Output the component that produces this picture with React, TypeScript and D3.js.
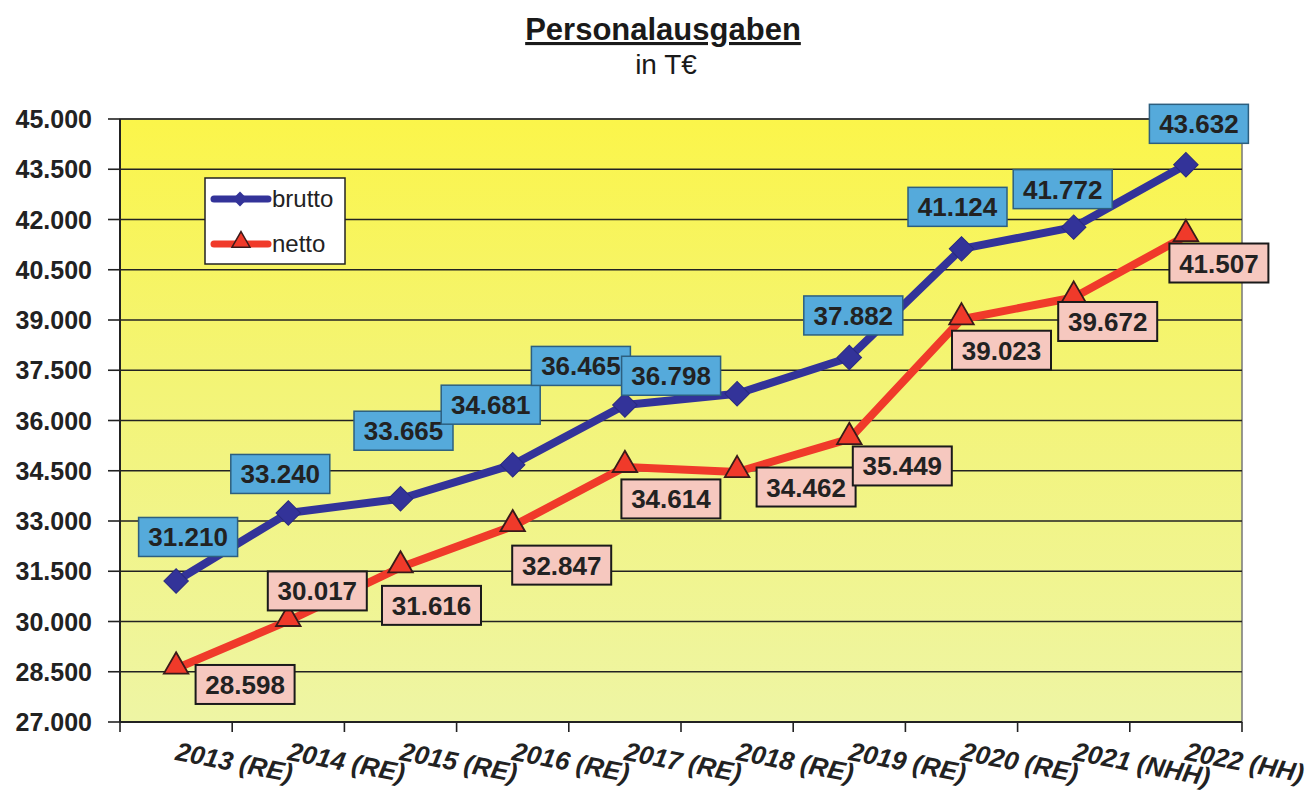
import React from "react";
import * as d3 from "d3";

const categories = ["2013 (RE)", "2014 (RE)", "2015 (RE)", "2016 (RE)", "2017 (RE)", "2018 (RE)", "2019 (RE)", "2020 (RE)", "2021 (NHH)", "2022 (HH)"];
const brutto = [31210, 33240, 33665, 34681, 36465, 36798, 37882, 41124, 41772, 43632];
const netto = [28598, 30017, 31616, 32847, 34614, 34462, 35449, 39023, 39672, 41507];
const yTicks = [27000, 28500, 30000, 31500, 33000, 34500, 36000, 37500, 39000, 40500, 42000, 43500, 45000];

// label box placement relative to point (layout only)
const bruttoLabelShift: [number, number][] = [[12, -44], [-8, -39], [3, -68], [-22, -60], [-44, -39], [-66, -18], [4, -42], [-4, -42], [-11, -38], [13, -41]];
const nettoLabelShift: [number, number][] = [[69, 16], [29, -30], [31, 38], [49, 39], [46, 32], [69, 15], [53, 27], [40, 31], [34, 24], [33, 27]];

const FONT = "Arial, 'Liberation Sans', Helvetica, sans-serif";
const W = 1308, H = 791;
const L = 120, R = 1242, T = 119, B = 722;

const locale = d3.formatLocale({ decimal: ",", thousands: ".", grouping: [3], currency: ["", "€"] });
const fmt = locale.format(",.0f");

export default function App() {
  const x = d3.scaleBand<string>().domain(categories).range([L, R]);
  const y = d3.scaleLinear().domain([27000, 45000]).range([B, T]);
  const cx = (i: number) => (x(categories[i]) as number) + x.bandwidth() / 2;
  const line = d3.line<number>().x((_, i) => cx(i)).y((v) => y(v));
  const diamond = d3.symbol(d3.symbolSquare, 300)();
  const tri = d3.symbol(d3.symbolTriangle, 260)();
  const boundaries = [...categories.map((c) => x(c) as number), R];
  const blue = "#333399";
  const red = "#f03a2a";
  const boxW = 99, boxH = 39;

  return (
    <svg width={W} height={H} style={{ position: "absolute", left: 0, top: 0, background: "#fff" }} fontFamily={FONT}>
      <defs>
        <linearGradient id="bg" x1="0" y1="0" x2="0" y2="1">
          <stop offset="0" stopColor="#fbf54a" />
          <stop offset="0.45" stopColor="#f3f477" />
          <stop offset="1" stopColor="#eef5a4" />
        </linearGradient>
      </defs>
      <rect x={0} y={0} width={W} height={H} fill="#fff" />
      {/* title */}
      <text x={663} y={40} textAnchor="middle" fontSize={31} fontWeight="bold" fill="#1a1a1a" textDecoration="underline">Personalausgaben</text>
      <text x={666} y={74} textAnchor="middle" fontSize={28} fill="#1a1a1a">in T€</text>

      {/* plot area */}
      <rect x={L} y={T} width={R - L} height={B - T} fill="url(#bg)" stroke="#777" strokeWidth={1.5} />
      {yTicks.slice(1).map((t) => (
        <line key={t} x1={L} x2={R} y1={y(t)} y2={y(t)} stroke="#222" strokeWidth={1.6} />
      ))}
      {/* axes */}
      <line x1={L} x2={L} y1={T} y2={B} stroke="#222" strokeWidth={2} />
      <line x1={L} x2={R} y1={B} y2={B} stroke="#222" strokeWidth={2} />
      {yTicks.map((t) => (
        <g key={t}>
          <line x1={L - 12} x2={L} y1={y(t)} y2={y(t)} stroke="#222" strokeWidth={1.6} />
          <text x={92} y={y(t) + 9} textAnchor="end" fontSize={25} fontWeight="bold" fill="#222">{fmt(t)}</text>
        </g>
      ))}
      {boundaries.map((b, i) => (
        <line key={i} x1={b} x2={b} y1={B} y2={B + 10} stroke="#222" strokeWidth={1.6} />
      ))}
      {categories.map((c, i) => (
        <g key={c} transform={`translate(${cx(i) + 2},${741}) rotate(11)`}>
          <text x={0} y={19} fontSize={26} fontWeight="bold" fontStyle="italic" fill="#222">{c}</text>
        </g>
      ))}

      {/* lines */}
      <path d={line(brutto) as string} fill="none" stroke={blue} strokeWidth={8} strokeLinejoin="round" />
      <path d={line(netto) as string} fill="none" stroke={red} strokeWidth={8} strokeLinejoin="round" />
      {brutto.map((v, i) => (
        <path key={i} d={diamond as string} transform={`translate(${cx(i)},${y(v)}) rotate(45)`} fill={blue} stroke="#2a2a80" strokeWidth={1} />
      ))}
      {netto.map((v, i) => (
        <path key={i} d={tri as string} transform={`translate(${cx(i)},${y(v) - 2})`} fill={red} stroke="#3a1a1a" strokeWidth={1.8} />
      ))}

      {/* data labels */}
      {brutto.map((v, i) => {
        const bx = cx(i) + bruttoLabelShift[i][0];
        const by = y(v) + bruttoLabelShift[i][1];
        return (
          <g key={i}>
            <rect x={bx - boxW / 2} y={by - boxH / 2} width={boxW} height={boxH} fill="#55aadb" stroke="#2d5f7f" strokeWidth={1.5} />
            <text x={bx} y={by + 9.5} textAnchor="middle" fontSize={26} fontWeight="bold" fill="#222">{fmt(v)}</text>
          </g>
        );
      })}
      {netto.map((v, i) => {
        const bx = cx(i) + nettoLabelShift[i][0];
        const by = y(v) + nettoLabelShift[i][1];
        return (
          <g key={i}>
            <rect x={bx - boxW / 2} y={by - boxH / 2} width={boxW} height={boxH} fill="#f6c8bf" stroke="#1a1a1a" strokeWidth={2} />
            <text x={bx} y={by + 9.5} textAnchor="middle" fontSize={26} fontWeight="bold" fill="#222">{fmt(v)}</text>
          </g>
        );
      })}

      {/* legend */}
      <rect x={205} y={178} width={140} height={86} fill="#fff" stroke="#222" strokeWidth={1.5} />
      <line x1={214} x2={268} y1={199} y2={199} stroke={blue} strokeWidth={7} strokeLinecap="round" />
      <path d={d3.symbol(d3.symbolSquare, 110)() as string} transform="translate(240,199) rotate(45)" fill={blue} />
      <text x={272} y={207} fontSize={24} fill="#222">brutto</text>
      <line x1={214} x2={268} y1={244} y2={244} stroke={red} strokeWidth={7} strokeLinecap="round" />
      <path d={d3.symbol(d3.symbolTriangle, 140)() as string} transform="translate(241,242)" fill={red} stroke="#3a1a1a" strokeWidth={1.5} />
      <text x={272} y={252} fontSize={24} fill="#222">netto</text>
    </svg>
  );
}
